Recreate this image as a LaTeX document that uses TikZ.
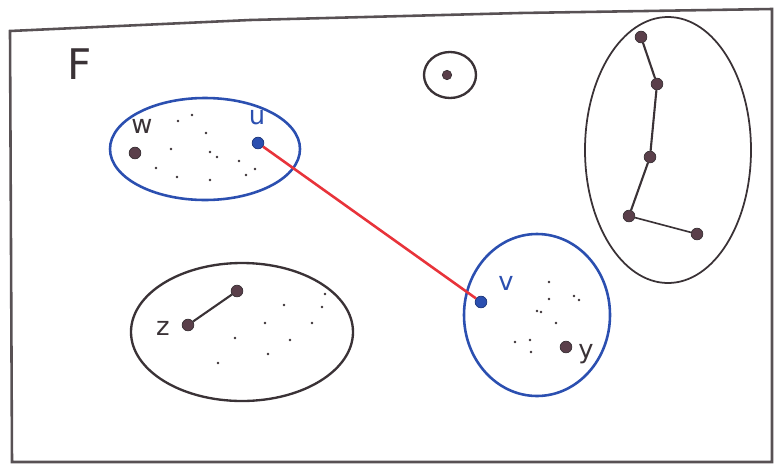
\documentclass[tikz,border=0pt]{standalone}
\usepackage{fontspec}
\setmainfont{DejaVu Sans}
\definecolor{ink}{HTML}{3A3236}
\definecolor{dotc}{HTML}{5A3F4A}
\definecolor{pen}{HTML}{2B4FB0}
\definecolor{redline}{HTML}{E8333A}
\begin{document}
\begin{tikzpicture}[x=0.03cm,y=-0.03cm,
  frame/.style={draw=ink!85,line width=2.2pt},
  grp/.style={draw=ink,line width=1.5pt},
  bgrp/.style={draw=pen,line width=2.2pt},
  vtx/.style={circle,fill=dotc,draw=ink,line width=0.6pt,inner sep=0pt,minimum size=10pt},
  bvtx/.style={circle,fill=pen,draw=pen!70!black,line width=0.6pt,inner sep=0pt,minimum size=10pt},
  speck/.style={circle,fill=ink,inner sep=0pt,minimum size=2.2pt},
  lbl/.style={font=\fontsize{22}{22}\selectfont,text=ink},
  blbl/.style={font=\fontsize{22}{22}\selectfont,text=pen},
  edge/.style={draw=ink,line width=1.8pt}]
\useasboundingbox (0,0) rectangle (781,466);
% frame
\draw[frame] (10,31) -- (250,20) -- (520,13) -- (772,9) -- (772,462) -- (12,462) -- cycle;
% label F
\node[lbl,font=\fontsize{36}{36}\selectfont] (F) at (80,64) {F};
% isolated vertex
\draw[grp,line width=2pt] (450,75) ellipse (26 and 23);
\node[vtx,minimum size=8pt] (iso) at (447,75) {};
% top-left blue group
\draw[bgrp] (205,149) ellipse (95 and 51);
\node[vtx] (w) at (135,153) {};
\node[bvtx] (u) at (258,143) {};
\node[lbl] (wl) at (142,126) {w};
\node[blbl] (ul) at (257,117) {u};
\foreach \p [count=\i] in {(178,121),(192,115),(206,133),(171,149),(210,152),(217,157),(239,161),(156,168),(177,177),(210,180),(246,175),(255,169)}
  \node[speck] (s\i) at \p {};
% blue group with v,y
\draw[bgrp] (537,315) ellipse (73 and 81);
\node[bvtx] (v) at (481,302) {};
\node[vtx] (y) at (566,347) {};
\node[blbl] (vl) at (506,283) {v};
\node[lbl] (yl) at (586,354) {y};
\foreach \p [count=\i] in {(549,282),(549,299),(574,296),(579,300),(537,311),(541,312),(556,323),(515,342),(530,340),(531,352)}
  \node[speck] (t\i) at \p {};
% red edge
\draw[redline,line width=2.2pt] (u) -- (v);
% z group
\draw[grp,line width=2pt] (242,332) ellipse (111 and 69);
\node[vtx] (z) at (188,325) {};
\node[vtx] (z2) at (237,291) {};
\node[lbl] (zl) at (163,328) {z};
\draw[edge] (z) -- (z2);
\foreach \p [count=\i] in {(284,305),(325,294),(322,307),(265,323),(312,323),(235,338),(290,340),(268,354),(218,363)}
  \node[speck] (r\i) at \p {};
% right group with path
\draw[grp] (668,150) ellipse (83 and 133);
\node[vtx] (p1) at (641,37) {};
\node[vtx] (p2) at (657,84) {};
\node[vtx] (p3) at (650,157) {};
\node[vtx] (p4) at (629,216) {};
\node[vtx] (p5) at (697,234) {};
\draw[edge] (p1) -- (p2) -- (p3) -- (p4);
\draw[edge,line width=1.4pt] (p4) -- (p5);
\end{tikzpicture}
\end{document}
